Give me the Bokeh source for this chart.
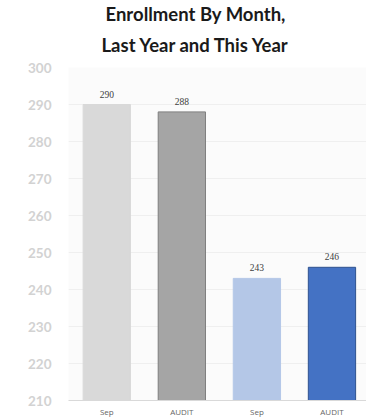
from bokeh.plotting import figure
from bokeh.models import ColumnDataSource, Range1d, FixedTicker, LabelSet, Title
from bokeh.embed import file_html
from bokeh.resources import INLINE

labels = ["Sep", "AUDIT", "Sep", "AUDIT"]
values = [290, 288, 243, 246]
fill_colors = ["#d9d9d9", "#a5a5a5", "#b4c7e7", "#4472c4"]
line_colors = ["#d9d9d9", "#7f7f7f", "#b4c7e7", "#2f528f"]
y_ticks = [210, 220, 230, 240, 250, 260, 270, 280, 290, 300]
title_lines = ["Enrollment By Month,", "Last Year and This Year"]

xs = list(range(len(labels)))
src = ColumnDataSource(dict(x=xs, top=values, fill=fill_colors, line=line_colors,
                            txt=[str(v) for v in values]))

p = figure(width=366, height=419, output_backend="svg", toolbar_location=None,
           x_range=Range1d(-0.51, 3.46), y_range=Range1d(210, 300),
           min_border_left=68, min_border_right=0, min_border_top=67, min_border_bottom=19)

# second line closest to the frame, first line above it
p.add_layout(Title(text=title_lines[1], align="left", offset=33, standoff=23,
                   text_font="Lato", text_font_style="bold", text_font_size="18.5px",
                   text_color="#1a1a1a"), "above")
p.add_layout(Title(text=title_lines[0], align="left", offset=37, standoff=-8,
                   text_font="Lato", text_font_style="bold", text_font_size="18.5px",
                   text_color="#1a1a1a"), "above")

p.vbar(x="x", top="top", bottom=210, width=0.63, source=src,
       fill_color="fill", line_color="line", line_width=1)

p.add_layout(LabelSet(x="x", y="top", text="txt", source=src, text_align="center",
                      y_offset=7, text_font="Open Sans", text_font_size="9.5px",
                      text_color="#404040"))

p.background_fill_color = "#fbfbfb"
p.border_fill_color = "white"
p.outline_line_color = None

p.xgrid.grid_line_color = None
p.ygrid.grid_line_color = "#efefef"
p.ygrid.ticker = FixedTicker(ticks=y_ticks)

p.yaxis.ticker = FixedTicker(ticks=y_ticks)
p.yaxis.axis_line_color = None
p.yaxis.major_tick_line_color = None
p.yaxis.minor_tick_line_color = None
p.yaxis.major_tick_out = 0
p.yaxis.major_label_standoff = 17
p.yaxis.major_label_text_font = "Lato"
p.yaxis.major_label_text_font_style = "bold"
p.yaxis.major_label_text_font_size = "13.5px"
p.yaxis.major_label_text_color = "#d2d2d2"

p.xaxis.ticker = FixedTicker(ticks=xs)
p.xaxis.major_label_overrides = {i: l for i, l in enumerate(labels)}
p.xaxis.axis_line_color = "#d9d9d9"
p.xaxis.major_tick_line_color = None
p.xaxis.minor_tick_line_color = None
p.xaxis.major_tick_out = 0
p.xaxis.major_label_standoff = 5
p.xaxis.major_label_text_font = "Open Sans"
p.xaxis.major_label_text_font_size = "8px"
p.xaxis.major_label_text_color = "#666666"

open("out.html", "w").write(file_html(p, INLINE))
